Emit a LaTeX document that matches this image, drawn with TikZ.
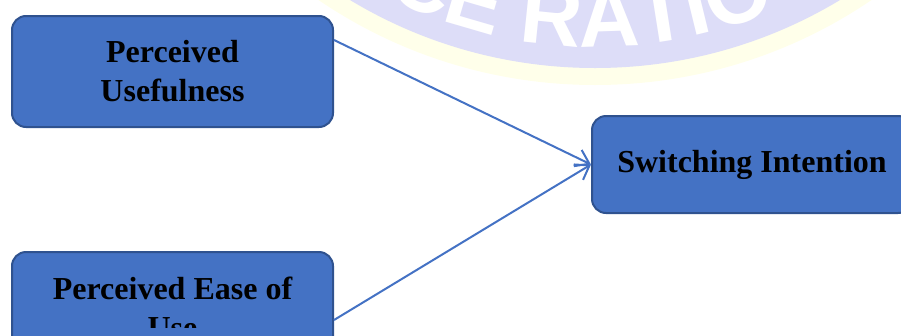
\documentclass[tikz,border=0pt]{standalone}
\usepackage{fontspec}
\setmainfont{Liberation Serif}
\newfontfamily\sealfont{Liberation Sans}
\usetikzlibrary{arrows.meta,decorations.text}
\definecolor{boxfill}{RGB}{68,114,196}
\definecolor{boxline}{RGB}{47,82,143}
\definecolor{sealfill}{RGB}{221,221,248}
\definecolor{sealring}{RGB}{255,255,234}

\begin{document}
\begin{tikzpicture}[
    x=1pt, y=1pt,
    box/.style={rectangle, draw=boxline, fill=boxfill, line width=2pt, rounded corners=14pt, minimum width=321pt, minimum height=111pt, align=center, font=\fontsize{32}{39}\selectfont\bfseries},
    arrow/.style={line width=2pt, draw=boxfill, -{Straight Barb[length=13pt,width=18pt]}}
]
    \useasboundingbox (0,0) rectangle (901,-335);
    \clip (0,0) rectangle (901,-335);

    % seal in the background
    \fill[sealring] (595,407) circle[radius=492pt];
    \fill[sealfill] (595,407) circle[radius=475pt];
    \path[decorate, decoration={text along path, text align=center, text color=white,
        text format delimiters={|}{|}, text={|\sealfont\bfseries\fontsize{85}{85}\selectfont|CE RATIO}}]
        ([shift={(228:454pt)}]595,407) arc[start angle=228, end angle=308, radius=454pt];

    \node[box] (pu) at (172.5,-71.5) {Perceived\\Usefulness};
    \node[box, below of=pu, node distance=236pt] (peou) {};
    \begin{scope}
        \clip (peou.north west) rectangle ([yshift=37pt]peou.south east);
        \node[box, draw=none, fill=none] at (peou) {Perceived Ease of\\Use};
    \end{scope}
    \node[box, minimum width=320pt, minimum height=97pt] (si) at (752,-164.5) {Switching Intention};

    \draw[arrow] ([yshift=31.5pt]pu.east) -- (si.west);
    \draw[arrow] ([yshift=-12.5pt]peou.east) -- (si.west);
\end{tikzpicture}
\end{document}
